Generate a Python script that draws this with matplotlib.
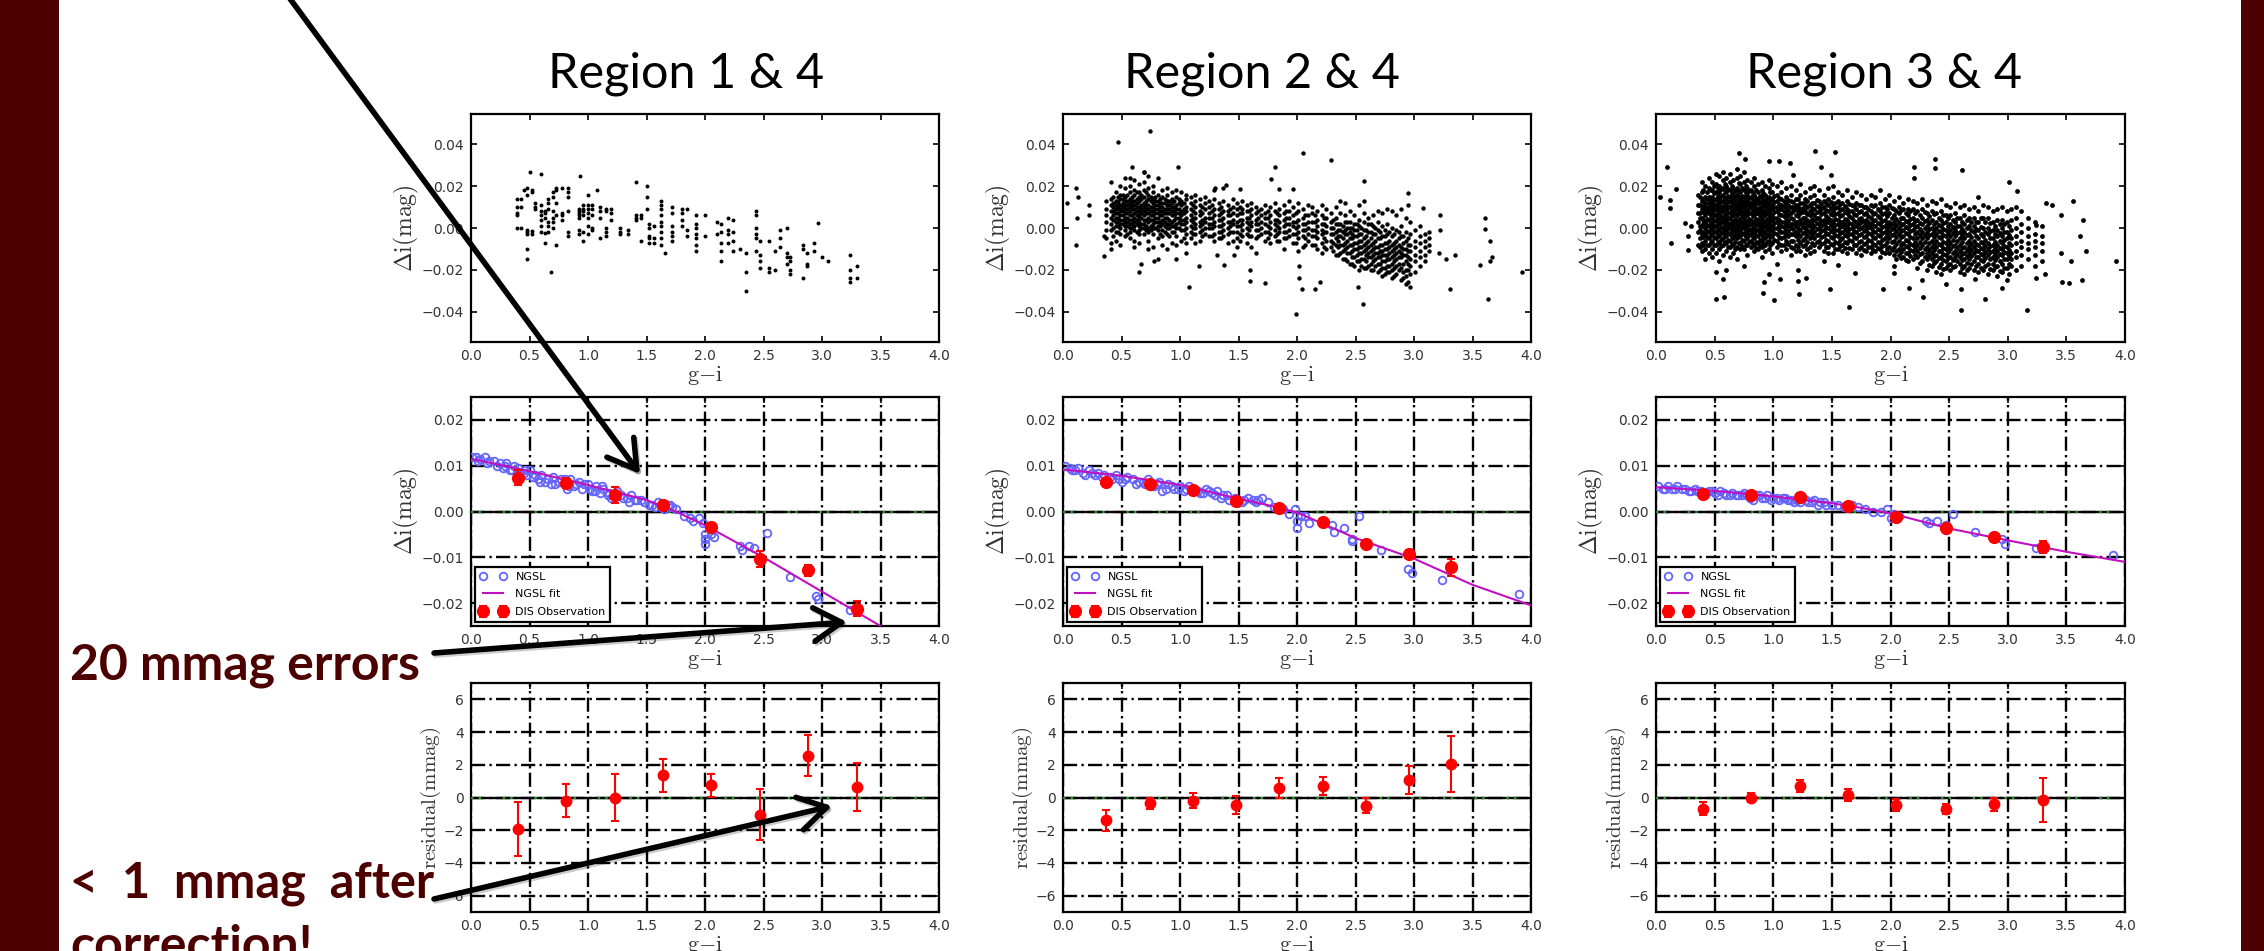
import matplotlib
matplotlib.use("Agg")
import matplotlib.pyplot as plt
import matplotlib.patheffects as pe
import numpy as np

W, H = 2264, 951
maroon = "#4c0000"
plt.rcParams["mathtext.fontset"] = "cm"
plt.rcParams["font.family"] = ["DejaVu Sans"]

# top row, g-i columns and delta i in mmag
r1_cols = [0.39, 0.43, 0.45, 0.48, 0.50, 0.52, 0.55, 0.60, 0.63, 0.66, 0.68, 0.70, 0.73, 0.78, 0.83, 0.92, 0.93, 0.96, 1.00, 1.03, 1.08, 1.10, 1.15, 1.20, 1.27, 1.34, 1.41, 1.45, 1.50, 1.52, 1.56, 1.62, 1.66, 1.72, 1.80, 1.85, 1.92, 2.00, 2.10, 2.14, 2.20, 2.24, 2.30, 2.35, 2.44, 2.47, 2.55, 2.60, 2.64, 2.70, 2.73, 2.84, 2.87, 2.93, 2.97, 3.00, 3.05, 3.24, 3.30]
r1_vals = [[14, 10, 6, 7, 0], [14, 10, 0], [18], [19, 16, -1, -2, -3, -10, -15], [27], [18, 17, -1.5, -3], [12, 10, 9], [26, 11, 8, 6, 4, 1, -2], [8, 7, 5, -2.5, -7], [14, 12, 9, 3, 1, -2], [-21], [17, 15, 8, 5, 3, 0], [19, 18, 12, 6, -8], [19, 7, 6, 4], [19, 17, 15, 8, -2, -4], [9, 8, 7, 6, 5, -1, -3], [25], [11, 9, 8, 6, -2, -6], [16, 11, 9, 7, 5, 1, -3], [11, 9, 6, 0, -1], [18], [10, 8, 5, -5], [9, 8, 0, -2, -4], [9, 7, 4], [0, -2, -3], [-1, -3], [22, 6, 5, 4], [6, 5, -6], [20, 15, 9], [2, 0, -4, -5, -7], [1, -5, -7], [13, 11, 9, 6, 3, 1, -2, -5, -8], [-12], [10, 7, 1, -2, -4, -6], [9, 7, 4, 1], [9, -1, -4], [6, 2, 0, -3, -5, -8, -11], [6, -4], [3, -3], [2, -2, -7, -11, -16], [5, -1, -3, -7], [4, -2, -6, -11], [-10], [-12, -21, -30], [8, 6, 0, -3, -5, -11], [-13, -16, -19, -6], [-6, -19, -21], [-11, -20], [-1, -5, -9], [0, -12, -14, -17], [-14, -16, -20, -22], [-8, -10, -24], [-12, -17, -18], [-7, -11], [2.5], [-14], [-16], [-13, -20, -24, -26], [-18, -24]]

r2_cols = [0.37, 0.41, 0.45, 0.49, 0.53, 0.57, 0.61, 0.65, 0.69, 0.73, 0.77, 0.81, 0.85, 0.89, 0.93, 0.97, 1.01, 1.05, 1.09, 1.13, 1.17, 1.21, 1.25, 1.29, 1.33, 1.37, 1.41, 1.45, 1.49, 1.53, 1.57, 1.61, 1.65, 1.69, 1.73, 1.77, 1.81, 1.85, 1.89, 1.93, 1.97, 2.01, 2.05, 2.09, 2.13, 2.17, 2.21, 2.25, 2.29, 2.33, 2.37, 2.41, 2.45, 2.49, 2.53, 2.57, 2.61, 2.65, 2.69, 2.73, 2.77, 2.81, 2.85, 2.89, 2.93, 2.97, 3.01, 3.05, 3.09, 3.13]
r2_vals = [
    [13, 9, 6, 3, -1, -5], [22, 14, 11, 8, 5, 2, -1, -7, -10], [17, 13, 11, 9, 7, 5, 3, 1, -2, -6], [20, 16, 14, 11, 9, 8, 6, 4, 2, 0, -3, -8], [24, 19, 15, 13, 11, 9, 7, 5, 3, 1, -1, -4],
    [24, 20, 17, 14, 12, 10, 8, 6, 4, 2, 0, -2, -5], [23, 18, 16, 13, 11, 9, 7, 5, 3, 1, -1, -6, -9], [21, 17, 15, 13, 10, 8, 6, 5, 3, 1, -1, -3, -7], [27, 22, 18, 15, 12, 10, 8, 6, 4, 2, 0, -3], [25, 19, 16, 14, 11, 9, 7, 5, 3, 0, -2, -6, -10],
    [20, 17, 14, 12, 10, 8, 6, 4, 2, 0, -3, -9], [24, 16, 13, 11, 9, 7, 5, 3, 1, -1, -5, -15], [18, 15, 12, 10, 8, 6, 4, 2, -1, -4, -8], [19, 16, 13, 11, 9, 7, 5, 2, 0, -3, -10], [17, 14, 12, 10, 8, 6, 3, 1, -2, -7],
    [18, 15, 11, 9, 7, 5, 2, 0, -4, -8, -15], [17, 13, 11, 8, 6, 4, 2, -1, -6], [16, 14, 10, 8, 5, 3, 0, -3, -7, -12], [15, 12, 9, 6, 4, 1, -2, -5], [16, 13, 10, 7, 5, 2, 0, -3, -7], [14, 11, 8, 6, 3, 1, -2, -6],
    [15, 12, 9, 5, 3, 0, -3], [13, 10, 7, 5, 2, 0, -4], [18, 14, 9, 6, 3, 1, -3, -6], [12, 9, 6, 4, 1, -2, -5], [19, 13, 8, 5, 2, -1, -4], [11, 8, 6, 3, 0, -3, -7], [14, 10, 7, 4, 2, -2, -6], [12, 9, 6, 3, 1, -2, -5, -9],
    [13, 9, 7, 4, 2, -1, -4], [11, 8, 5, 3, 0, -3, -7], [12, 9, 6, 3, 1, -4, -9], [10, 7, 4, 2, -1, -5, -12], [9, 6, 3, 0, -3], [11, 7, 5, 2, -2, -6], [10, 6, 3, 0, -3, -7], [12, 8, 4, 2, -1, -4],
    [9, 6, 3, 0, -2, -6], [11, 7, 4, 1, -2, -5, -10], [13, 8, 5, 2, -1, -4], [10, 6, 3, 1, -3, -7], [12, 8, 4, 1, -2, -5, -11], [9, 5, 2, -1, -4, -9], [11, 6, 3, 0, -3, -6], [10, 7, 3, -1, -4, -8], [8, 4, 1, -2, -5, -10],
    [11, 6, 2, -1, -3, -7, -12], [9, 5, 1, -2, -6, -10], [7, 3, 0, -3, -6, -9], [10, 5, 2, -2, -5, -8, -13], [13, 7, 2, -1, -4, -8, -12], [12, 6, 3, -1, -3, -7, -10, -15], [8, 3, 0, -2, -5, -8, -12, -17], [6, 2, -1, -4, -7, -10, -14, -18],
    [11, 4, 1, -3, -6, -9, -12, -16, -20], [13, 7, 3, -1, -5, -8, -11, -15, -19], [5, 2, -2, -6, -9, -12, -14, -18], [6, 1, -3, -7, -10, -13, -16, -20], [8, 3, -1, -5, -9, -12, -14, -17, -21], [7, 1, -4, -8, -11, -13, -16, -19, -23],
    [9, 2, -3, -7, -10, -13, -15, -18, -21], [8, 0, -4, -8, -11, -14, -17, -20, -24], [6, -1, -6, -9, -12, -15, -18, -22], [9, 1, -4, -9, -12, -14, -19, -25], [5, -2, -6, -10, -13, -16, -20, -23, -27], [3, -3, -8, -11, -15, -18, -22, -28],
    [-1, -6, -9, -13, -16, -21], [1, -4, -7, -11, -14, -18], [-3, -6, -9, -13, -16], [-2, -5, -8, -11],
]
# second pass over the busiest parts of the region 2 cloud
r2_core_cols = [0.43, 0.47, 0.51, 0.55, 0.59, 0.63, 0.67, 0.71, 0.75, 0.79, 0.83, 0.87, 0.91, 0.95, 0.99, 1.03, 1.11, 1.19, 1.27, 1.35, 1.43, 1.51, 1.59, 1.67, 1.75, 1.83, 1.91, 1.99, 2.07, 2.15, 2.23, 2.31, 2.35, 2.39, 2.43, 2.47, 2.51, 2.55, 2.59, 2.63, 2.67, 2.71, 2.75, 2.79, 2.83, 2.87, 2.91, 2.95]
r2_core_vals = [
    [15, 12, 10, 8, 6, 4, 0, -4], [15, 12.5, 10, 7, 5, 3, 1, -2], [16, 14, 12, 10, 8, 6, 4, 2], [16, 13, 11, 9, 7, 5, 3, 1, -3], [15, 13, 11, 9, 6, 4, 2, 0], [17, 14, 12, 10, 8, 6, 4, 2, -2], [16, 14, 11, 9, 7, 5, 2, 0], [17, 13, 11, 9, 7, 4, 1, -1],
    [15, 13, 10, 8, 6, 4, 1, -1], [15, 13, 11, 9, 7, 5, 3, 0], [14, 12, 10, 8, 6, 3, 1, -3], [14, 12, 9, 7, 5, 3, 1, -2], [13, 11, 9, 7, 4, 2, 0, -4], [13, 10, 8, 6, 4, 1, -2], [14, 12, 9, 7, 5, 3, 0], [12, 9, 7, 4, 2, -1, -5],
    [11, 8, 5, 3, 0, -3], [10, 7, 4, 2, -1, -4], [11, 8, 5, 2, 0, -4], [10, 7, 4, 1, -2, -5], [9, 6, 3, 1, -2], [10, 7, 4, 1, -3, -6], [8, 5, 2, -1, -4], [8, 5, 2, -1, -4], [8, 5, 1, -2, -5], [7, 4, 1, -3, -6], [8, 5, 2, -2, -5], [7, 3, 0, -3, -7], [6, 2, -1, -5, -8], [6, 3, -1, -4, -8], [5, 2, -2, -5, -9], [4, 0, -3, -7, -11],
    [2, -1, -4, -6, -9, -13], [1, -2, -5, -8, -11, -15], [3, 0, -3, -6, -9, -12, -16], [0, -3, -5, -8, -11, -14, -17], [2, -1, -4, -7, -10, -13, -16], [0, -3, -6, -9, -12, -15, -18], [-1, -4, -7, -10, -13, -16, -19], [2, -2, -5, -8, -11, -14, -17, -20], [0, -3, -6, -9, -12, -15, -18], [-2, -5, -8, -11, -14, -17, -20], [-1, -4, -7, -10, -13, -16, -19, -22], [-2, -6, -9, -12, -15, -18, -21], [-3, -7, -10, -13, -16, -19, -23], [-2, -5, -8, -11, -14, -17, -20], [-4, -7, -10, -13, -17, -21, -24], [-5, -8, -11, -14, -17, -20, -26],
]
# scattered points outside the main cloud
r2_out_x = [0.11, 0.03, 0.13, 0.12, 0.22, 0.22, 0.11, 0.35, 0.35, 0.47, 0.74, 0.59, 0.69, 0.98, 2.05, 2.29, 1.81, 1.78, 1.85, 1.97, 2.57, 2.95, 2.95, 3.08, 3.22, 3.22, 3.61, 3.61, 3.65, 3.67, 3.65, 3.56, 3.92, 3.63, 3.31, 3.35, 3.27, 3.21, 1.99, 2.56, 2.52, 1.08, 0.65, 0.67, 0.78, 1.60, 1.60, 1.73, 2.02, 2.04, 2.15, 2.20, 1.16, 1.38, 1.32, 1.46, 2.02, 1.51, 1.39, 1.30]
r2_out_y = [19, 12, 15, 5, 11, 6, -8, -4, -13.5, 41, 46.5, 29, 27, 29, 36, 32.5, 29, 23.5, 18.5, 18.7, 22.7, 16.7, 11, 9.5, 6.3, -1, 4.8, -0.5, -6.3, -14, -16, -17.5, -21, -34, -29, -13, -15, -12, -41.3, -36.5, -28, -28, -21, -17, -16, -20, -25.5, -26.5, -24, -29, -29, -26, -18, -17.5, -12.7, -12.7, -18, 18.5, 20.5, 19]

r3_cols = [0.36, 0.39, 0.42, 0.45, 0.48, 0.51, 0.54, 0.57, 0.60, 0.63, 0.66, 0.69, 0.72, 0.75, 0.78, 0.81, 0.84, 0.87, 0.90, 0.93, 0.96, 0.99, 1.03, 1.07, 1.11, 1.15, 1.19, 1.23, 1.27, 1.31, 1.35, 1.39, 1.43, 1.47, 1.51, 1.55, 1.59, 1.63, 1.67, 1.71, 1.75, 1.79, 1.83, 1.87, 1.91, 1.95, 1.99, 2.03, 2.07, 2.11, 2.15, 2.19, 2.23, 2.27, 2.31, 2.35, 2.39, 2.43, 2.47, 2.51, 2.55, 2.59, 2.63, 2.67, 2.71, 2.75, 2.79, 2.83, 2.87, 2.91, 2.95, 2.99, 3.03, 3.07, 3.11, 3.17, 3.23, 3.29]
r3_vals = [
    [16, 11, 7, 3, -2, -8], [22, 17, 13, 9, 5, 1, -3, -7, -11], [20, 15, 12, 9, 6, 3, 0, -3, -6, -10, -15], [24, 19, 15, 12, 9, 7, 4, 1, -2, -5, -8, -12], [22, 18, 15, 12, 10, 7, 5, 2, 0, -3, -6, -10, -14], [26, 21, 17, 14, 11, 9, 6, 4, 1, -2, -5, -8, -12],
    [25, 20, 17, 14, 12, 9, 7, 4, 2, -1, -4, -7, -10, -16], [27, 23, 19, 16, 13, 10, 8, 5, 3, 0, -2, -5, -8, -13], [24, 20, 17, 14, 11, 9, 6, 4, 1, -1, -4, -7, -11, -20], [26, 22, 18, 15, 13, 10, 7, 5, 2, 0, -3, -6, -9, -14], [23, 19, 16, 13, 11, 8, 6, 3, 1, -2, -5, -8, -12],
    [28, 24, 19, 16, 14, 11, 9, 6, 3, 1, -2, -5, -9, -15], [25, 21, 17, 14, 12, 9, 7, 4, 2, -1, -4, -7, -10], [27, 22, 18, 15, 12, 10, 7, 5, 2, 0, -3, -6, -10, -18], [23, 19, 16, 13, 11, 8, 6, 3, 1, -2, -5, -8, -13], [22, 18, 15, 12, 10, 7, 4, 2, -1, -3, -6, -9],
    [24, 20, 16, 13, 11, 8, 6, 3, 0, -2, -5, -8, -11], [21, 17, 14, 12, 9, 7, 4, 2, -1, -4, -7, -10], [22, 18, 15, 12, 10, 7, 5, 2, -1, -3, -6, -9, -14], [20, 16, 13, 11, 8, 6, 3, 1, -2, -5, -8, -11], [23, 19, 15, 12, 10, 7, 5, 2, 0, -3, -6, -10],
    [21, 17, 14, 11, 9, 6, 4, 1, -1, -4, -7, -12], [20, 16, 13, 10, 8, 5, 3, 0, -3, -6, -9, -17], [22, 17, 14, 11, 9, 6, 3, 1, -2, -5, -8, -11], [19, 15, 12, 10, 7, 5, 2, -1, -3, -6, -10], [20, 16, 13, 10, 7, 5, 2, 0, -3, -6, -9, -13], [18, 14, 11, 9, 6, 3, 1, -2, -4, -8, -11],
    [21, 16, 12, 9, 7, 4, 2, -1, -4, -7, -11], [17, 14, 11, 8, 5, 3, 0, -2, -5, -8, -13], [19, 15, 11, 8, 6, 3, 1, -2, -5, -9, -12], [20, 16, 12, 9, 6, 4, 1, -2, -5, -8, -11], [18, 13, 10, 8, 5, 2, 0, -3, -6, -9], [16, 13, 10, 7, 4, 2, -1, -4, -7, -11, -16],
    [19, 14, 11, 8, 5, 3, 0, -3, -6, -9, -12], [20, 15, 11, 8, 6, 3, 0, -2, -5, -8, -12], [17, 13, 10, 7, 4, 2, -1, -4, -7, -10], [16, 12, 9, 6, 3, 1, -2, -5, -8, -11], [18, 13, 9, 7, 4, 1, -2, -4, -7, -12], [15, 11, 8, 5, 2, 0, -3, -6, -10], [17, 12, 9, 6, 3, 1, -2, -5, -8, -12],
    [16, 11, 8, 5, 3, 0, -3, -6, -9, -13], [14, 10, 7, 4, 2, -1, -4, -7, -11], [16, 11, 8, 5, 2, 0, -3, -6, -9, -12], [15, 11, 7, 4, 1, -2, -5, -8, -11], [18, 12, 8, 5, 2, -1, -4, -7, -10, -14], [14, 10, 7, 4, 1, -2, -5, -8, -12], [16, 11, 7, 3, 1, -2, -5, -9, -12],
    [13, 9, 6, 3, 0, -3, -6, -9, -13, -18], [15, 10, 7, 3, 0, -3, -6, -10, -13], [12, 9, 5, 2, -1, -4, -7, -10, -14], [14, 9, 6, 3, 0, -3, -6, -9, -12, -16], [13, 9, 5, 2, -1, -5, -8, -11, -15], [12, 8, 4, 1, -2, -5, -8, -11, -14, -19], [14, 9, 5, 2, -2, -5, -8, -12, -16],
    [11, 7, 4, 1, -2, -5, -9, -12, -15, -20], [13, 8, 4, 0, -3, -6, -9, -12, -15, -18], [12, 7, 3, 0, -3, -6, -9, -13, -16, -21], [14, 8, 4, 1, -2, -5, -8, -11, -14, -17, -22], [11, 6, 3, -1, -4, -7, -10, -13, -16, -19], [10, 6, 2, -1, -4, -7, -10, -14, -17, -20], [12, 7, 3, -1, -4, -8, -11, -14, -18],
    [10, 5, 1, -2, -5, -8, -11, -14, -17, -21], [11, 6, 2, -2, -5, -9, -12, -15, -18, -22], [9, 5, 1, -3, -6, -9, -12, -15, -19], [10, 5, 1, -2, -6, -9, -12, -16, -20], [15, 8, 3, -1, -5, -8, -11, -14, -17, -21], [11, 5, 0, -4, -7, -10, -13, -16, -20], [10, 5, 0, -3, -7, -10, -13, -17, -22],
    [8, 3, -1, -5, -8, -11, -14, -17, -20], [9, 4, -1, -4, -8, -11, -14, -18, -23], [10, 4, 0, -4, -7, -10, -13, -17, -21], [8, 3, -2, -5, -9, -12, -15, -19, -25], [9, 4, -1, -5, -8, -12, -15, -18], [10, 5, 0, -4, -7, -11, -14, -20], [8, 2, -2, -6, -9, -13, -18],
    [5, 0, -4, -7, -10, -15], [3, -3, -6, -9, -13, -18], [1, -4, -7, -11, -16],
]
# second pass over the region 3 cloud, which prints almost solid black
r3_core_cols = [0.375, 0.405, 0.435, 0.465, 0.495, 0.525, 0.555, 0.585, 0.615, 0.645, 0.675, 0.705, 0.735, 0.765, 0.795, 0.825, 0.855, 0.885, 0.915, 0.945, 0.975, 1.01, 1.05, 1.09, 1.13, 1.17, 1.21, 1.25, 1.29, 1.33, 1.37, 1.41, 1.45, 1.49, 1.53, 1.57, 1.61, 1.65, 1.69, 1.73, 1.77, 1.81, 1.85, 1.89, 1.93, 1.97, 2.01, 2.05, 2.09, 2.13, 2.17, 2.21, 2.25, 2.29, 2.33, 2.37, 2.41, 2.45, 2.49, 2.53, 2.57, 2.61, 2.65, 2.69, 2.73, 2.77, 2.81, 2.85, 2.89, 2.93, 2.97, 3.01]
r3_core_vals = [
    [15, 11, 7, 5, 1, -1, -5, -9], [18, 14, 10.5, 7.5, 4, 2, -2, -4.5, -8], [17, 14, 10, 7.5, 4.5, 1.5, -1.5, -4.5, -8], [18, 13.5, 10.5, 8, 5.5, 2.5, -0.5, -3.5, -6.5], [20, 16.5, 13.5, 11, 8.5, 6, 3.5, 1, -1.5, -4.5, -8], [19, 15.5, 12.5, 10, 7.5, 5, 2.5, -0.5, -3.5, -6.5],
    [18.5, 15.5, 13, 10.5, 8, 5.5, 3, 0.5, -2.5, -5.5, -8.5], [21, 17.5, 14.5, 11.5, 9, 6.5, 4, 1.5, -1, -3.5, -6.5], [18.5, 15.5, 12.5, 10, 7.5, 5, 2.5, 0, -2.5, -5.5, -9], [20, 16.5, 14, 11.5, 8.5, 6, 3.5, 1, -1.5, -4.5, -7.5], [17.5, 14.5, 12, 9.5, 7, 4.5, 2, -0.5, -3.5, -6.5, -10],
    [21.5, 17.5, 15, 12.5, 10, 7.5, 4.5, 2, -0.5, -3.5, -7], [19, 15.5, 13, 10.5, 8, 5.5, 3, 0.5, -2.5, -5.5, -8.5], [20, 16.5, 13.5, 11, 8.5, 6, 3.5, 1, -1.5, -4.5, -8], [17.5, 14.5, 12, 9.5, 7, 4.5, 2, -0.5, -3.5, -6.5], [16.5, 13.5, 11, 8.5, 5.5, 3, 0.5, -2, -4.5, -7.5],
    [18, 14.5, 12, 9.5, 7, 4.5, 1.5, -1, -3.5, -6.5, -9.5], [15.5, 12.5, 10, 8, 5.5, 3, 0.5, -2.5, -5.5, -8.5], [16.5, 13.5, 11, 8.5, 6, 3.5, 0.5, -2, -4.5, -7.5], [14.5, 12, 9.5, 7, 4.5, 2, -0.5, -3.5, -6.5], [17, 13.5, 11, 8.5, 6, 3.5, 1, -1.5, -4.5, -8], [15.5, 12.5, 10, 7.5, 5, 2.5, 0, -2.5, -5.5],
    [14.5, 11.5, 9, 6.5, 4, 1.5, -1, -4.5, -7.5], [13, 10.5, 8, 5.5, 3, 0.5, -2, -4.5, -8], [13.5, 11, 8.5, 6, 3.5, 1, -1.5, -4, -7.5], [12.5, 10, 8, 4.5, 2, -0.5, -3, -6, -9.5], [14, 10.5, 8, 5.5, 3, 0, -3, -5.5, -9], [12, 9.5, 7.5, 5, 2.5, 0.5, -2.5, -5.5, -8.5], [13, 10, 6.5, 4, 1.5, -1, -3.5, -6.5, -10], [12, 9.5, 7, 4.5, 2, -0.5, -3.5, -7], [13.5, 10.5, 7.5, 5, 2.5, -0.5, -3.5, -6.5],
    [11.5, 9, 6.5, 3.5, 1, -1.5, -4.5, -7.5], [12, 8.5, 5.5, 3, 0.5, -2.5, -5.5, -9], [12.5, 9.5, 6.5, 4, 1.5, -1.5, -4.5, -7.5], [12, 9.5, 6.5, 4.5, 1.5, -1, -3.5, -6.5, -10], [11.5, 8.5, 5.5, 3, 0.5, -2.5, -5.5, -8.5], [10.5, 7.5, 4.5, 2, -0.5, -3.5, -6.5, -9.5], [11.5, 8, 5.5, 2.5, -0.5, -3, -5.5, -9.5], [10.5, 6.5, 3.5, 1, -1.5, -4.5, -8], [11, 7.5, 4.5, 2, -0.5, -3.5, -6.5, -10],
    [10, 6.5, 3.5, 1, -1.5, -4.5, -7.5, -10.5], [9, 5.5, 3, 0.5, -2.5, -5.5, -9], [10.5, 6.5, 3.5, 1, -1.5, -4.5, -7.5, -10.5], [9, 5.5, 2.5, -0.5, -3.5, -6.5, -9.5], [10, 6.5, 3.5, 0.5, -2.5, -5.5, -8.5, -11.5], [9, 5.5, 2.5, -0.5, -3.5, -6.5, -10], [9.5, 5, 2, -0.5, -3.5, -6.5, -10.5],
    [8, 4.5, 1.5, -1.5, -4.5, -7.5, -11, -15], [8.5, 5, 1.5, -1.5, -4.5, -8, -11.5, -14.5], [7, 3.5, 0.5, -2.5, -5.5, -8.5, -12, -15.5], [8, 4.5, 1.5, -1.5, -4.5, -7.5, -10.5, -13.5], [7, 3.5, 0.5, -3, -6.5, -9.5, -13], [6, 2.5, -0.5, -3.5, -6.5, -9.5, -12.5, -16.5], [7.5, 3.5, 0, -3.5, -6.5, -10, -14],
    [5.5, 2.5, -0.5, -3.5, -7, -10.5, -13.5, -17.5], [6.5, 2, -1.5, -4.5, -7.5, -10.5, -13.5, -16.5], [5, 1.5, -1.5, -4.5, -7.5, -11, -14.5, -18.5], [6, 2.5, -0.5, -3.5, -6.5, -9.5, -12.5, -15.5, -19.5], [5, 1, -2.5, -5.5, -8.5, -11.5, -14.5, -17.5], [4, 0.5, -2.5, -5.5, -8.5, -12, -15.5, -18.5], [5, 1, -2.5, -6, -9.5, -12.5, -16],
    [3, -0.5, -3.5, -6.5, -9.5, -12.5, -15.5, -19], [4, 0, -3.5, -7, -10.5, -13.5, -16.5, -20], [3, -1, -4.5, -7.5, -10.5, -13.5, -17], [3, -0.5, -4, -7.5, -10.5, -14, -18], [5, 0.5, -3, -6.5, -9.5, -12.5, -15.5, -19], [3, -2, -5.5, -8.5, -11.5, -14.5, -18], [2.5, -1.5, -5, -8.5, -11.5, -15, -19.5],
    [1, -3, -6.5, -9.5, -12.5, -15.5, -18.5], [2, -2.5, -6, -9.5, -12.5, -16, -20.5], [2, -2, -5.5, -8.5, -11.5, -15, -19], [1, -3.5, -7, -10.5, -13.5, -17, -22], [2, -2.5, -6.5, -10, -13.5, -16.5], [1, -2, -5.5, -9, -12.5, -17],
]
r3_out_x = [0.09, 0.17, 0.03, 0.12, 0.12, 0.25, 0.30, 0.27, 0.13, 0.27, 0.71, 0.76, 0.96, 1.05, 1.14, 1.36, 1.53, 1.41, 1.49, 1.17, 2.38, 2.38, 2.61, 2.20, 2.20, 3.01, 3.08, 3.33, 3.38, 3.56, 3.64, 3.45, 3.24, 3.62, 3.67, 3.45, 3.54, 3.92, 3.32, 3.24, 3.46, 3.52, 3.63, 3.16, 2.60, 2.81, 2.95, 2.60, 2.28, 2.16, 1.94, 1.48, 1.65, 1.22, 1.01, 0.91, 0.58, 0.51, 0.92, 0.57, 0.51, 0.96, 1.06, 1.21, 1.21, 1.28, 1.70, 1.55, 2.03, 2.27, 2.47, 2.72]
r3_out_y = [29, 18.5, 15, 13.5, 9.5, 2.4, 1, -4, -7, -10.6, 36, 33, 32, 32, 31, 37, 36.5, 29, 25.4, 25.4, 33, 28.5, 27.8, 29, 23.8, 22, 17.5, 12, 10.8, 12.7, 4, 6.3, 1.6, -4, -11, -12, -16, -16, -22, -24, -26, -26.5, -25, -39.4, -39.4, -34, -28.6, -29, -33, -28.6, -29, -29, -38, -31.7, -34.6, -31, -33, -33.8, -25.7, -24.6, -21, -22, -24.6, -20, -25.4, -23.8, -21.7, -17.5, -21.4, -25, -27, -24.6]

# middle row, NGSL points in mmag
ngsl1_x = [0.01, 0.04, 0.08, 0.12, 0.15, 0.20, 0.25, 0.27, 0.30, 0.33, 0.37, 0.40, 0.45, 0.48, 0.50, 0.53, 0.57, 0.60, 0.63, 0.68, 0.70, 0.75, 0.80, 0.82, 0.85, 0.88, 0.92, 0.95, 1.00, 1.03, 1.07, 1.10, 1.13, 1.17, 1.20, 1.25, 1.30, 1.35, 1.37, 1.42, 1.48, 1.52, 1.57, 1.60, 1.65, 1.70, 1.72, 1.75, 1.82, 1.87, 1.90, 1.95, 1.98, 2.00, 2.00, 2.00, 2.05, 2.08, 2.30, 2.32, 2.38, 2.42, 2.53, 2.73, 2.95, 2.97, 3.24,
           0.06, 0.14, 0.22, 0.29, 0.35, 0.42, 0.46, 0.55, 0.59, 0.66, 0.72, 0.77, 0.84, 0.90, 0.97, 1.02, 1.06, 1.12, 1.18, 1.23, 1.28, 1.33, 1.40, 1.45, 1.55, 1.62, 1.68]
ngsl1_y = [12, 12, 11.5, 12, 11, 11, 10.5, 9.5, 10.5, 9, 10, 9.5, 8.5, 8, 9, 7.5, 7, 8, 6.5, 6, 7.5, 6.5, 7, 5, 7, 5.5, 6.5, 5, 6, 4.5, 5.5, 4, 5, 3.5, 3, 4.5, 3, 2, 3.5, 2.5, 2, 1.5, 1, 2, 0.5, 1.5, 1, 0.5, -1, -1.5, -2, -1.5, -2.5, -5, -6, -7, -5, -5.5, -7.5, -8.5, -7.5, -8, -4.7, -14.3, -18.5, -19, -21.5,
           11, 10.5, 10, 10, 9, 8.5, 9, 8, 6.5, 7, 6, 7, 5.5, 6, 6, 5, 4.5, 5.5, 4, 3.5, 3.5, 3, 2.5, 2.5, 1.5, 1, 1.5]
ngsl2_x = [0.02, 0.06, 0.10, 0.13, 0.17, 0.22, 0.27, 0.30, 0.35, 0.40, 0.45, 0.50, 0.55, 0.60, 0.65, 0.70, 0.73, 0.78, 0.82, 0.85, 0.90, 0.95, 1.00, 1.03, 1.08, 1.12, 1.17, 1.22, 1.27, 1.32, 1.37, 1.42, 1.47, 1.53, 1.58, 1.62, 1.67, 1.70, 1.75, 1.80, 1.88, 1.93, 1.98, 2.00, 2.00, 2.03, 2.07, 2.10, 2.30, 2.32, 2.40, 2.47, 2.47, 2.53, 2.72, 2.95, 2.98, 3.24, 3.90,
           0.08, 0.19, 0.25, 0.33, 0.42, 0.48, 0.53, 0.62, 0.68, 0.75, 0.80, 0.88, 0.93, 0.98, 1.05, 1.10, 1.15, 1.20, 1.25, 1.30, 1.35, 1.40, 1.50, 1.55, 1.65]
ngsl2_y = [10, 9.5, 9, 9.5, 8.5, 9, 8, 8.5, 8, 7.5, 8, 6.5, 7.5, 7, 6.5, 6, 7, 5.5, 6.5, 4.5, 6, 5, 5.5, 4.5, 5.5, 5, 4, 5, 4, 4.5, 3.5, 2.5, 3, 2, 3, 2.5, 2.5, 3, 2, 1, 0.5, -0.5, 0.5, -2, -3.5, -1, -1, -2.5, -3, -4.5, -3.5, -6, -6.5, -1, -8.5, -12.5, -13.5, -15, -18,
           9, 8, 8.5, 7.5, 7, 7, 7, 6, 6.5, 5.5, 6, 5, 5.5, 5, 5, 4.5, 4.5, 4, 4.5, 3.5, 3, 3.5, 2.5, 2.5, 2]
ngsl3_x = [0.02, 0.06, 0.10, 0.14, 0.18, 0.25, 0.30, 0.35, 0.40, 0.45, 0.50, 0.55, 0.60, 0.65, 0.70, 0.75, 0.80, 0.85, 0.90, 0.95, 1.00, 1.05, 1.10, 1.15, 1.20, 1.25, 1.30, 1.35, 1.40, 1.45, 1.50, 1.55, 1.60, 1.67, 1.72, 1.78, 1.85, 1.92, 1.97, 2.00, 2.03, 2.07, 2.30, 2.33, 2.40, 2.47, 2.47, 2.53, 2.72, 2.95, 2.98, 3.24, 3.90,
           0.08, 0.16, 0.22, 0.28, 0.33, 0.38, 0.43, 0.48, 0.53, 0.58, 0.63, 0.68, 0.73, 0.78, 0.83, 0.88, 0.93, 0.98, 1.03, 1.08, 1.13, 1.18, 1.23, 1.28, 1.33, 1.38, 1.43]
ngsl3_y = [5.5, 5, 5.5, 5, 5.5, 5, 4.5, 4.5, 4, 4.5, 4, 4.5, 3.5, 4, 3.5, 4, 3, 3.5, 3, 3.5, 3, 2.5, 3, 2.5, 2.5, 3, 2, 2.5, 2, 1.5, 1.5, 1.5, 1, 1.5, 1, 0.5, 0, 0, 0.5, -1.5, -0.5, -1, -2, -2.5, -2, -3, -4, -0.5, -4.5, -6, -7, -8, -9.5,
           5, 5, 5, 4.5, 5, 4.5, 4, 4.5, 3.5, 4, 3.5, 3.5, 3.5, 3.5, 2.5, 3.5, 3, 2.5, 3, 3, 2.5, 2, 2, 2.5, 2, 1.5, 2]

fit_x = [0.0, 0.5, 1.0, 1.5, 1.75, 2.0, 2.5, 3.0, 3.5, 4.0]
fit1_y = [11.5, 8.8, 5.8, 2.5, 0.0, -3.0, -10.0, -17.5, -25.0, -32.0]
fit2_y = [9.2, 7.8, 5.8, 2.8, 1.4, -0.2, -5.8, -10.3, -16.0, -20.5]
fit3_y = [5.3, 4.5, 3.3, 1.8, 0.8, -0.4, -3.7, -6.3, -8.8, -11.0]

# DIS observation and residuals
dis1_x = [0.40, 0.81, 1.23, 1.64, 2.05, 2.47, 2.88, 3.30]
dis1_y = [7.4, 6.3, 3.6, 1.5, -3.4, -10.4, -12.8, -21.2]
dis1_e = [1.7, 1.1, 1.8, 0.9, 0.8, 1.8, 1.2, 1.6]
res1_y = [-1.95, -0.2, 0.0, 1.35, 0.75, -1.05, 2.55, 0.65]
res1_e = [1.65, 1.0, 1.45, 1.0, 0.7, 1.55, 1.25, 1.45]
dis2_x = [0.37, 0.74, 1.11, 1.48, 1.85, 2.22, 2.59, 2.96, 3.32]
dis2_y = [6.5, 6.1, 4.6, 2.4, 0.7, -2.3, -7.0, -9.3, -12.2]
dis2_e = [0.7, 0.4, 0.5, 0.6, 0.6, 0.6, 0.5, 0.9, 1.8]
res2_y = [-1.4, -0.35, -0.2, -0.45, 0.6, 0.7, -0.5, 1.05, 2.05]
res2_e = [0.65, 0.35, 0.45, 0.55, 0.6, 0.55, 0.45, 0.85, 1.7]
dis3_x = [0.40, 0.81, 1.23, 1.64, 2.05, 2.47, 2.88, 3.30]
dis3_y = [3.8, 3.5, 3.2, 1.3, -1.1, -3.5, -5.5, -7.7]
dis3_e = [0.5, 0.4, 0.4, 0.5, 0.6, 0.5, 0.6, 1.3]
res3_y = [-0.7, 0.0, 0.7, 0.15, -0.45, -0.7, -0.4, -0.15]
res3_e = [0.4, 0.25, 0.35, 0.35, 0.35, 0.3, 0.4, 1.35]

titles = ["Region 1 & 4", "Region 2 & 4", "Region 3 & 4"]
title_mid = [686, 1262, 1884]
x_ticks = [0.0, 0.5, 1.0, 1.5, 2.0, 2.5, 3.0, 3.5, 4.0]
top_ticks = [-0.04, -0.02, 0.0, 0.02, 0.04]
mid_ticks = [-0.02, -0.01, 0.0, 0.01, 0.02]
res_ticks = [-6, -4, -2, 0, 2, 4, 6]


def flatten(cols, vals):
    xs, ys = [], []
    for c, v in zip(cols, vals):
        xs += [c] * len(v)
        ys += v
    return np.array(xs), np.array(ys, dtype=float)


def px_axes(left, top, right, bottom):
    return fig.add_axes([left / W, 1 - bottom / H, (right - left) / W, (bottom - top) / H])


def style(ax, yticks, fmt, ylab, lab_x, lab_size):
    ax.set_xlim(0, 4)
    ax.set_xticks(x_ticks)
    ax.set_xticklabels([f"{t:.1f}" for t in x_ticks])
    ax.set_yticks(yticks)
    ax.set_yticklabels([(fmt % t).replace("-", "\u2212") for t in yticks])
    ax.tick_params(direction="in", top=True, right=True, length=4, width=1.2, labelsize=10, labelcolor="#333333", pad=5)
    for s in ax.spines.values():
        s.set_linewidth(1.6)
    ax.set_xlabel(r"$\mathrm{g{-}i}$", fontsize=16, color="#333333")
    ax.xaxis.set_label_coords(0.5, -0.145, transform=ax.transAxes)
    ax.xaxis.label.set_verticalalignment("center")
    ax.set_ylabel(ylab, fontsize=lab_size, color="#333333")
    ax.yaxis.set_label_coords(lab_x, 0.5)
    ax.yaxis.label.set_verticalalignment("center")


def grid(ax):
    ax.grid(True, color="black", linewidth=1.7, linestyle=(0, (6, 1.8, 1, 1.8)))
    ax.axhline(0, color="black", lw=1.7, zorder=2.6)
    ax.axhline(0, color="#22bb22", lw=1.2, ls=(0, (1.5, 3, 1.5, 13)), zorder=2.7)


fig = plt.figure(figsize=(W / 100, H / 100), dpi=100, facecolor="white")
fig.patches.append(plt.Rectangle((0, 0), 59 / W, 1, transform=fig.transFigure, color=maroon, lw=0))
fig.patches.append(plt.Rectangle((2241 / W, 0), 23 / W, 1, transform=fig.transFigure, color=maroon, lw=0))

col_left = [471, 1063, 1656]
col_right = [939, 1531, 2125]
scatter_sets = [[flatten(r1_cols, r1_vals)],
                [flatten(r2_cols, r2_vals), flatten(r2_core_cols, r2_core_vals), (np.array(r2_out_x), np.array(r2_out_y))],
                [flatten(r3_cols, r3_vals), flatten(r3_core_cols, r3_core_vals), (np.array(r3_out_x), np.array(r3_out_y))]]
dot_size = [8, 10, 12]
ngsl_sets = [(ngsl1_x, ngsl1_y), (ngsl2_x, ngsl2_y), (ngsl3_x, ngsl3_y)]
fit_sets = [fit1_y, fit2_y, fit3_y]
dis_sets = [(dis1_x, dis1_y, dis1_e, res1_y, res1_e), (dis2_x, dis2_y, dis2_e, res2_y, res2_e), (dis3_x, dis3_y, dis3_e, res3_y, res3_e)]

for i in range(3):
    l, r = col_left[i], col_right[i]
    # top row
    ax = px_axes(l, 114, r, 342)
    for sx, sy in scatter_sets[i]:
        ax.scatter(sx, sy / 1000, s=dot_size[i], c="black", lw=0)
    ax.set_ylim(-0.0545, 0.0545)
    style(ax, top_ticks, "%.2f", r"$\Delta\mathrm{i(mag)}$", -0.137, 17)

    # middle row
    ax = px_axes(l, 397, r, 626)
    nx, ny = ngsl_sets[i]
    ax.plot(nx, np.array(ny) / 1000, "o", mfc="none", mec="#6464ff", mew=1.3, ms=5.5, label="NGSL", zorder=3)
    ax.plot(fit_x, np.array(fit_sets[i]) / 1000, color="#c010c0", lw=1.5, label="NGSL fit", zorder=3.5)
    dx, dy, de, ry, re = dis_sets[i]
    ax.errorbar(dx, np.array(dy) / 1000, yerr=np.array(de) / 1000, fmt="o", color="red", ms=8.5, lw=1.5, capsize=3, capthick=1.5, label="DIS Observation", zorder=4)
    ax.set_ylim(-0.025, 0.025)
    grid(ax)
    style(ax, mid_ticks, "%.2f", r"$\Delta\mathrm{i(mag)}$", -0.137, 17)
    leg = ax.legend(loc="lower left", fontsize=8, numpoints=2, fancybox=False, framealpha=1, edgecolor="black", borderaxespad=0.4, handlelength=2.4, labelspacing=0.7)
    leg.get_frame().set_linewidth(1.6)
    leg.set_zorder(5)

    # bottom row
    ax = px_axes(l, 683, r, 912)
    ax.errorbar(dx, ry, yerr=re, fmt="o", color="red", ms=7.5, lw=1.5, capsize=3, capthick=1.5, zorder=4)
    ax.set_ylim(-7, 7)
    grid(ax)
    style(ax, res_ticks, "%d", r"$\mathrm{residual(mmag)}$", -0.085, 15)

    fig.text(title_mid[i] / W, 1 - 87 / H, titles[i], family="Lato", fontsize=35, ha="center", va="baseline", color="black")

# overlay text and arrows from the slide
fig.text(70 / W, 1 - 679 / H, "20 mmag errors", family="Lato", weight="bold", fontsize=36, color=maroon, va="baseline")
fig.text(70 / W, 1 - 897 / H, "<  1  mmag  after", family="Lato", weight="bold", fontsize=35, color=maroon, va="baseline", zorder=6)
fig.text(70 / W, 1 - 961 / H, "correction!", family="Lato", weight="bold", fontsize=36, color=maroon, va="baseline")

arrows = [((288, -4), (640, 474)), ((434, 653), (847, 622)), ((434, 899), (832, 806))]
shadow = [pe.SimpleLineShadow(offset=(1.2, -1.5), shadow_color="black", alpha=0.2), pe.Normal()]
overlay = fig.add_axes([0, 0, 1, 1], facecolor="none")
overlay.set_xlim(0, W)
overlay.set_ylim(H, 0)
overlay.axis("off")
for start, end in arrows:
    overlay.annotate("", xy=end, xytext=start, arrowprops=dict(arrowstyle="->,head_length=1.0,head_width=0.6", color="black", lw=4.0, shrinkA=0, shrinkB=0, mutation_scale=20, path_effects=shadow))

fig.savefig("out.png", dpi=100)
